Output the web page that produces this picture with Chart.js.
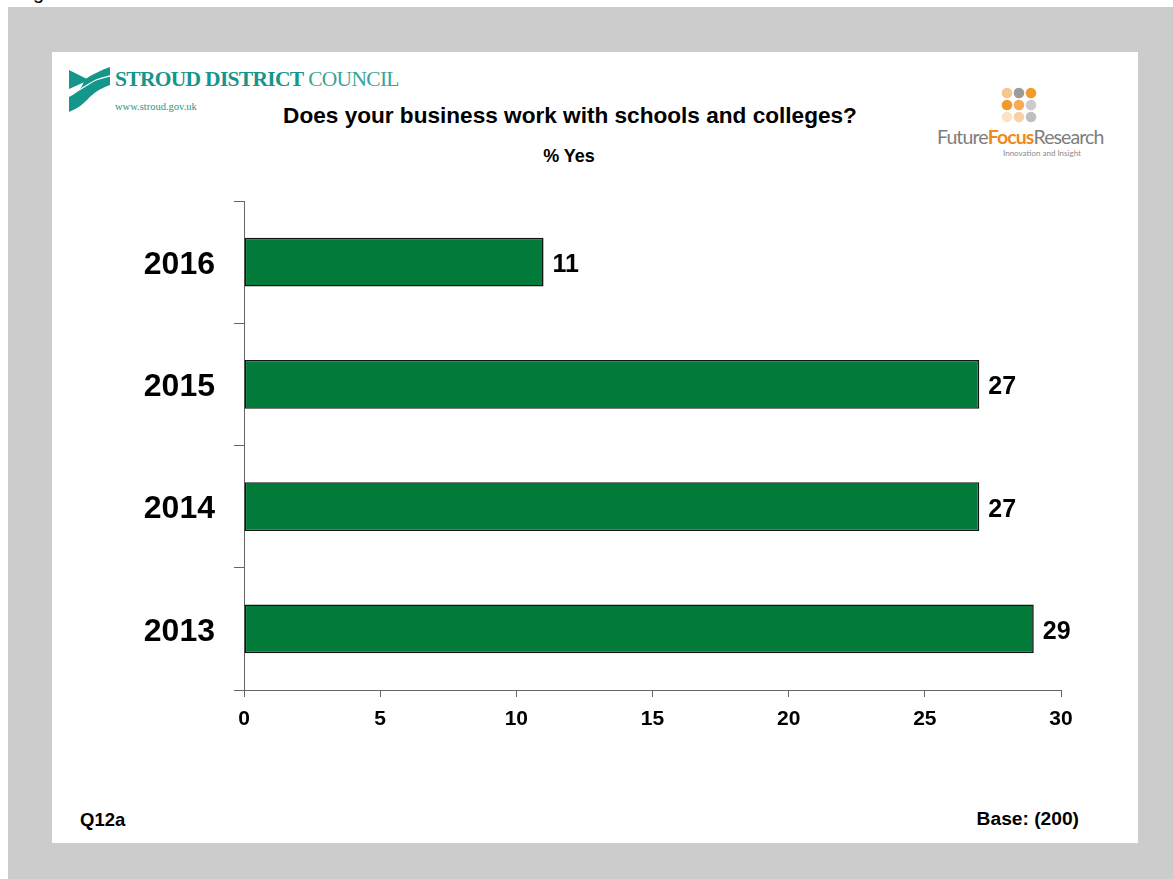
<!DOCTYPE html>
<html>
<head>
<meta charset="utf-8">
<script src="https://cdn.jsdelivr.net/npm/chart.js@4/dist/chart.umd.min.js"></script>
<style>
  html, body { margin: 0; padding: 0; background: #fff; overflow: hidden; }
  body { width: 1173px; height: 879px; position: relative; font-family: Arial, "Liberation Sans", sans-serif; }
  .frame { position: absolute; left: 8px; top: 7px; width: 1165px; height: 872px; background: #cccccc; }
  .slide { position: absolute; left: 52px; top: 52px; width: 1086px; height: 791px; background: #fff; }
  .txt { position: absolute; font-weight: bold; color: #000; white-space: nowrap; }
  .peek { position: absolute; left: 33px; top: -19px; font-size: 20px; color: #000; }
  .council { position: absolute; left: 115px; top: 67px; font-family: "Liberation Serif", "DejaVu Serif", serif; font-size: 21.5px; color: #14968a; letter-spacing: -0.7px; white-space: nowrap; }
  .council b { font-weight: bold; }
  .council span { color: #3aa597; }
  .web { position: absolute; left: 115px; top: 101px; font-family: "Liberation Serif", serif; font-size: 10.5px; color: #1a9a8c; }
  .ffr { position: absolute; left: 937px; top: 125px; font-family: Lato, "Open Sans", sans-serif; font-size: 19.5px; color: #7d7d7d; letter-spacing: -0.9px; white-space: nowrap; }
  .ffr b { color: #f08a1c; font-weight: bold; }
  .ffr-sub { position: absolute; left: 1003px; top: 148px; font-family: Lato, sans-serif; font-size: 8px; color: #8a8a8a; white-space: nowrap; }
  #chart { position: absolute; left: 0; top: 0; }
</style>
</head>
<body>
<div class="peek">g</div>
<div class="frame"></div>
<div class="slide"></div>

<!-- council logo -->
<svg style="position:absolute;left:0;top:0" width="130" height="120">
  <path d="M69,70 L89,80 L69,89 Z" fill="#14968a"/>
  <path d="M84,80 C93,74 101,70 110,67 L110,85 C101,88 93,93 87,100 C81,106 76,109 69,112 L69,97 C77,93 83,88 84,80 Z" fill="#14968a"/>
  <path d="M70,95 C80,90 88,84 96,80 C101,78 106,77 110,76" stroke="#fff" stroke-width="1.3" fill="none"/>
</svg>
<div class="council"><b>STROUD DISTRICT</b> <span>COUNCIL</span></div>
<div class="web">www.stroud.gov.uk</div>

<!-- research logo -->
<svg style="position:absolute;left:995px;top:82px" width="50" height="45">
  <circle cx="12" cy="11" r="5.3" fill="#f7c58f"/>
  <circle cx="24" cy="11" r="5.3" fill="#9b9b9b"/>
  <circle cx="36" cy="11" r="5.3" fill="#f39a2e"/>
  <circle cx="12" cy="23" r="5.3" fill="#f39a2e"/>
  <circle cx="24" cy="23" r="5.3" fill="#f6aa55"/>
  <circle cx="36" cy="23" r="5.3" fill="#cbcbcb"/>
  <circle cx="12" cy="35" r="5.3" fill="#fbe1c6"/>
  <circle cx="24" cy="35" r="5.3" fill="#f9d1a6"/>
  <circle cx="36" cy="35" r="5.3" fill="#bfbfbf"/>
</svg>
<div class="ffr">Future<b>Focus</b>Research</div>
<div class="ffr-sub">Innovation and Insight</div>

<div class="txt" style="left:0;width:1140px;top:103px;text-align:center;font-size:22.6px;">Does your business work with schools and colleges?</div>
<div class="txt" style="left:0;width:1138px;top:146px;text-align:center;font-size:18px;">% Yes</div>
<div class="txt" style="left:80px;top:809px;font-size:18.5px;">Q12a</div>
<div class="txt" style="right:94px;top:808px;font-size:19.2px;">Base: (200)</div>

<canvas id="chart" width="1173" height="879"></canvas>

<script>
// survey years, top to bottom
var years = ['2016', '2015', '2014', '2013'];
// % answering yes
var yesPct = [11, 27, 27, 29];
// x axis range and step
var xMin = 0;
var xMax = 30;
var xStep = 5;

var axisGrey = '#666666';

// writes the value just past the end of each bar
const valueLabels = {
    id: 'valueLabels',
    afterDatasetsDraw: function (chart) {
        var ctx = chart.ctx;
        var meta = chart.getDatasetMeta(0);
        ctx.save();
        ctx.font = 'bold 25px Arial, "Liberation Sans", sans-serif';
        ctx.fillStyle = '#000';
        ctx.textAlign = 'left';
        ctx.textBaseline = 'middle';
        meta.data.forEach(function (bar, i) {
            ctx.fillText(String(yesPct[i]), bar.x + 9, bar.y + 3);
        });
        ctx.restore();
    }
};

const dataBar = {
    labels: years,
    datasets: [{
        label: '% Yes',
        data: yesPct,
        backgroundColor: '#027b3a',
        borderColor: '#141414',
        borderWidth: 1.6,
        borderSkipped: false,
        barPercentage: 0.4,
        categoryPercentage: 1.0
    }]
};

const configBar = {
    type: 'bar',
    data: dataBar,
    plugins: [valueLabels],
    options: {
        indexAxis: 'y',
        responsive: false,
        animation: false,
        devicePixelRatio: 1,
        layout: {
            padding: {top: 201, right: 112, left: 0, bottom: 0}
        },
        plugins: {
            legend: {display: false},
            tooltip: {enabled: false}
        },
        scales: {
            x: {
                min: xMin,
                max: xMax,
                afterFit: function (scale) { scale.height = 189; },
                ticks: {
                    stepSize: xStep,
                    color: '#000',
                    padding: 10,
                    maxRotation: 0,
                    font: {family: 'Arial, "Liberation Sans", sans-serif', size: 21, weight: 'bold'}
                },
                grid: {
                    drawOnChartArea: false,
                    drawTicks: true,
                    tickLength: 7,
                    color: axisGrey
                },
                border: {color: axisGrey, width: 1}
            },
            y: {
                afterFit: function (scale) { scale.width = 244; },
                ticks: {
                    color: '#000',
                    padding: 19,
                    labelOffset: 3,
                    font: {family: 'Arial, "Liberation Sans", sans-serif', size: 32, weight: 'bold'}
                },
                grid: {
                    offset: true,
                    drawOnChartArea: false,
                    drawTicks: true,
                    tickLength: 10,
                    color: axisGrey
                },
                border: {color: axisGrey, width: 1}
            }
        }
    }
};

const yesChart = new Chart(document.getElementById('chart'), configBar);
</script>
</body>
</html>
